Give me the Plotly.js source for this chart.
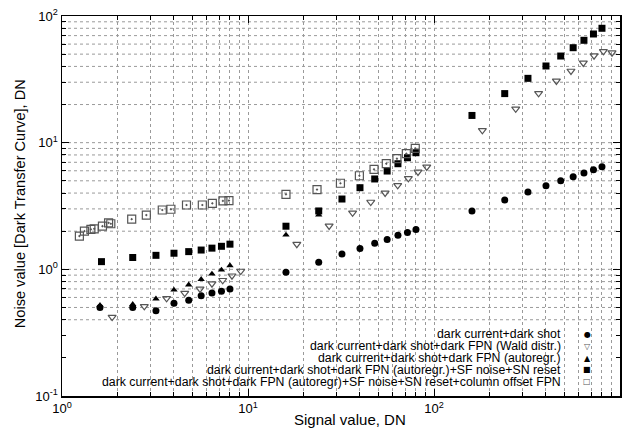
<!DOCTYPE html>
<html>
<head>
<meta charset="utf-8">
<script src="https://cdn.plot.ly/plotly-3.0.1.min.js"></script>
<style>html,body{margin:0;padding:0;background:#fff;}#chart{width:627px;height:437px;}</style>
</head>
<body>
<div id="chart"></div>
<script>
// Series names (legend)
var names = [
  "dark current+dark shot",
  "dark current+dark shot+dark FPN (Wald distr.)",
  "dark current+dark shot+dark FPN (autoregr.)",
  "dark current+dark shot+dark FPN (autoregr.)+SF noise+SN reset",
  "dark current+dark shot+dark FPN (autoregr)+SF noise+SN reset+column offset FPN"
];
var legendGlyphs = ["\u25CF", "\u25BD", "\u25B2", "\u25A0", "\u25A1"];
var xTitle = "Signal value, DN";
var yTitle = "Noise value [Dark Transfer Curve], DN";

// dark current + dark shot (filled circles)
var x1 = [1.6, 2.4, 3.2, 4.0, 4.8, 5.6, 6.4, 7.2, 8.0, 16, 24, 32, 40, 48, 56, 64, 72, 80, 160, 240, 320, 400, 480, 560, 640, 720, 800];
var y1 = [0.50, 0.50, 0.47, 0.54, 0.57, 0.62, 0.65, 0.67, 0.70, 0.95, 1.14, 1.32, 1.46, 1.61, 1.72, 1.86, 1.95, 2.06, 2.89, 3.53, 4.08, 4.57, 5.01, 5.39, 5.76, 6.12, 6.46];

// + dark FPN (Wald distr.) (open down triangles)
var x2 = [1.86, 2.77, 3.65, 4.57, 5.52, 6.4, 7.31, 8.2, 9.14, 18.3, 27.3, 36.5, 45.7, 54.6, 63.8, 72.8, 82, 91.4, 182, 275, 365, 455, 545, 635, 725, 814, 906];
var y2 = [0.42, 0.51, 0.59, 0.65, 0.70, 0.77, 0.82, 0.89, 0.97, 1.58, 2.2, 2.79, 3.4, 4.01, 4.6, 5.23, 5.87, 6.43, 12.5, 18.5, 24.5, 30.7, 36.8, 42.6, 48.6, 52.6, 51.3];

// + dark FPN (autoregr.) (filled up triangles)
var x3 = [1.6, 2.4, 3.2, 4.0, 4.8, 5.6, 6.4, 7.2, 8.0, 16, 24];
var y3 = [0.52, 0.53, 0.585, 0.687, 0.755, 0.835, 0.92, 0.99, 1.07, 1.87, 2.69];

// + SF noise + SN reset (filled squares)
var x4 = [1.63, 2.4, 3.2, 4.0, 4.8, 5.6, 6.4, 7.2, 8.0, 16, 24, 32, 40, 48, 56, 64, 72, 80, 160, 240, 320, 400, 480, 560, 640, 720, 800];
var y4 = [1.15, 1.24, 1.29, 1.34, 1.38, 1.42, 1.47, 1.52, 1.58, 2.19, 2.89, 3.59, 4.41, 5.17, 5.97, 6.82, 7.6, 8.33, 16.4, 24.4, 32.2, 40.3, 48.3, 56.2, 64.3, 72.1, 80];

// + column offset FPN (open squares)
var x5 = [1.24, 1.32, 1.43, 1.49, 1.65, 1.78, 1.83, 2.37, 2.84, 3.46, 3.85, 4.67, 5.68, 6.43, 7.33, 7.9, 16, 23.5, 31.4, 39.7, 47.6, 55.4, 63.2, 71, 79.3];
var y5 = [1.83, 2.0, 2.07, 2.09, 2.19, 2.33, 2.29, 2.49, 2.68, 2.94, 2.98, 3.22, 3.22, 3.32, 3.47, 3.49, 3.91, 4.26, 4.78, 5.48, 6.16, 6.82, 7.47, 8.18, 9.03];

// Axis ticks
var xMajor = [1, 10, 100, 1000];
var xMajorText = ["10<sup>0</sup>", "10<sup>1</sup>", "10<sup>2</sup>", "10<sup>3</sup>"];
var xMinor = [2,3,4,5,6,7,8,9,20,30,40,50,60,70,80,90,200,300,400,500,600,700,800,900];
var yMajor = [0.1, 1, 10, 100];
var yMajorText = ["10<sup>-1</sup>", "10<sup>0</sup>", "10<sup>1</sup>", "10<sup>2</sup>"];
var yMinor = [0.2,0.3,0.4,0.5,0.6,0.7,0.8,0.9,2,3,4,5,6,7,8,9,20,30,40,50,60,70,80,90];
var yGrid = [0.4,0.5,0.6,0.7,0.8,0.9,1,2,3,4,5,6,7,8,9,10,20,30,40,50,60,70,80,90];

var gridColor = "#9a9a9a";
var openColor = "#555";

var traces = [
  {x: x1, y: y1, name: names[0], mode: "markers", type: "scatter",
   marker: {symbol: "circle", size: 7, color: "#000"}},
  {x: x2, y: y2, name: names[1], mode: "markers", type: "scatter",
   marker: {symbol: "triangle-down-open", size: 7, color: openColor, line: {width: 1.2, color: openColor}}},
  {x: x3, y: y3, name: names[2], mode: "markers", type: "scatter",
   marker: {symbol: "triangle-up", size: 6.5, color: "#000"}},
  {x: x4, y: y4, name: names[3], mode: "markers", type: "scatter",
   marker: {symbol: "square", size: 7, color: "#000"}},
  {x: x5, y: y5, name: names[4], mode: "markers", type: "scatter",
   marker: {symbol: "square-open-dot", size: 8, color: openColor, line: {width: 1.2, color: openColor}}}
];

var shapes = yGrid.map(function (v) {
  return {type: "line", xref: "paper", x0: 0, x1: 1, yref: "y", y0: v, y1: v,
          layer: "below", line: {color: gridColor, width: 1, dash: "dot"}};
});

// legend rows as text annotations (text right-aligned, symbol to the right)
var rowY = [0.163, 0.1315, 0.1, 0.0685, 0.037];
var annotations = [];
names.forEach(function (n, i) {
  annotations.push({xref: "paper", yref: "paper", x: 0.898, y: rowY[i], text: n,
    showarrow: false, xanchor: "right", yanchor: "middle",
    font: {size: 12.3, color: "#000", family: "Liberation Sans, Arial, sans-serif"}});
  annotations.push({xref: "paper", yref: "paper", x: 0.941, y: rowY[i], text: legendGlyphs[i],
    showarrow: false, xanchor: "center", yanchor: "middle",
    font: {size: 8, color: (i === 1 || i === 4) ? openColor : "#000", family: "DejaVu Sans"}});
});
// axis titles
annotations.push({xref: "paper", yref: "paper", x: 0.516, y: -0.063, text: xTitle,
  showarrow: false, xanchor: "center", yanchor: "middle",
  font: {size: 15, color: "#000"}});
annotations.push({xref: "paper", yref: "paper", x: -0.075, y: 0.505, text: yTitle,
  showarrow: false, xanchor: "center", yanchor: "middle", textangle: -90,
  font: {size: 14.6, color: "#000"}});

var axisCommon = {
  type: "log",
  tickmode: "array",
  ticks: "inside",
  ticklen: 7,
  tickwidth: 1,
  tickcolor: "#000",
  showline: true,
  linecolor: "#000",
  linewidth: 1.5,
  mirror: "allticks",
  zeroline: false,
  tickfont: {size: 13, color: "#000"}
};

var layout = {
  width: 627, height: 437,
  margin: {l: 62, r: 7, t: 16, b: 41, pad: 0},
  paper_bgcolor: "#fff", plot_bgcolor: "#fff",
  font: {family: "Liberation Sans, Arial, sans-serif", color: "#000"},
  showlegend: false,
  xaxis: Object.assign({}, axisCommon, {
    range: [0, 3],
    tickvals: xMajor, ticktext: xMajorText,
    showgrid: true, gridcolor: gridColor, griddash: "dot", gridwidth: 1,
    minor: {tickmode: "array", tickvals: xMinor, ticks: "inside", ticklen: 4, tickcolor: "#000",
            showgrid: true, gridcolor: gridColor, griddash: "dot", gridwidth: 1}
  }),
  yaxis: Object.assign({}, axisCommon, {
    range: [-1, 2],
    tickvals: yMajor, ticktext: yMajorText,
    showgrid: false,
    minor: {tickmode: "array", tickvals: yMinor, ticks: "inside", ticklen: 4, tickcolor: "#000", showgrid: false}
  }),
  shapes: shapes,
  annotations: annotations
};

Plotly.newPlot("chart", traces, layout, {staticPlot: true, displayModeBar: false});
</script>
</body>
</html>
